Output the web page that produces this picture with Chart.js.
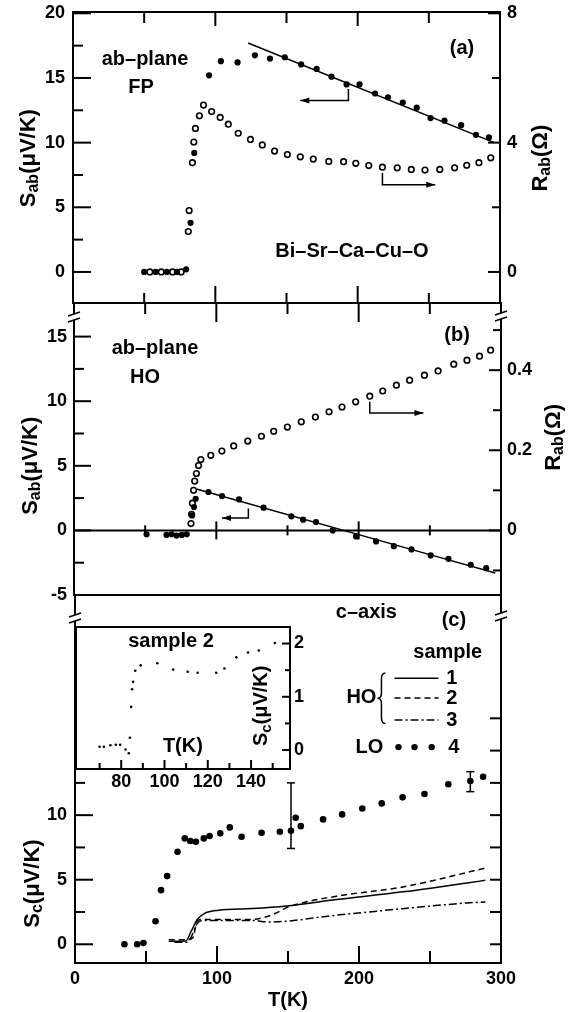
<!DOCTYPE html>
<html>
<head>
<meta charset="utf-8">
<script src="https://cdn.jsdelivr.net/npm/chart.js@4.4.0/dist/chart.umd.min.js"></script>
<style>
    body { margin: 0; background: #fff; }
    #fig { position: relative; width: 576px; height: 1012px; overflow: hidden; background: #fff; }
    #fig canvas { position: absolute; }
</style>
</head>
<body>
<div id="fig">
    <canvas id="panelA" width="576" height="331" style="left:0;top:-8px"></canvas>
    <canvas id="panelB" width="576" height="332" style="left:0;top:283px"></canvas>
    <canvas id="panelC" width="576" height="437" style="left:0;top:575px"></canvas>
    <canvas id="inset" width="268" height="188" style="left:56px;top:607px"></canvas>
</div>
<script>
// (a) ab-plane, FP: thermopower (filled) and resistance (open)
var tA_S = [50, 58, 66, 73, 79.5, 82.6, 85.2, 95.6, 103.9, 115.6, 127.8, 138.4, 148.8, 160.3, 171.2, 181.6, 192.2, 201.3, 212.2, 221.3, 231.7, 241.5, 251.2, 261.0, 272.7, 283.1, 292.2];
var sA = [0, 0, 0, 0, 0.2, 3.8, 9.2, 15.2, 16.3, 16.2, 16.75, 16.5, 16.6, 16.05, 15.7, 15.1, 14.5, 14.5, 13.8, 13.5, 13.1, 12.7, 11.9, 11.7, 11.35, 10.6, 10.4];
var tA_R = [54, 62, 70, 76, 81.0, 81.6, 83.9, 84.9, 86.0, 88.8, 91.7, 97.4, 103.4, 109.1, 116.1, 124.7, 133.0, 141.6, 150.6, 159.7, 168.8, 179.7, 190.1, 198.7, 207.8, 217.4, 227.8, 237.7, 247.3, 257.7, 268.1, 276.6, 285.2, 293.5];
var rA = [0, 0, 0, 0, 1.25, 1.9, 3.38, 4.02, 4.44, 4.83, 5.16, 4.96, 4.78, 4.57, 4.29, 4.10, 3.93, 3.74, 3.63, 3.56, 3.49, 3.42, 3.41, 3.36, 3.29, 3.24, 3.22, 3.17, 3.15, 3.17, 3.22, 3.30, 3.38, 3.53];
var fitA_T = [123, 296];
var fitA_S = [17.7, 10.0];

// (b) ab-plane, HO
var tB_S = [51, 65, 68.6, 72, 75.7, 79.2, 83, 84.3, 85.5, 94.4, 104, 116, 133.2, 152.7, 161, 170, 181.8, 198.2, 212.2, 224.7, 237.1, 250.6, 263.1, 278.7, 289.6];
var sB = [-0.3, -0.35, -0.3, -0.4, -0.35, -0.3, 1.16, 1.81, 2.45, 2.97, 2.66, 2.4, 1.76, 1.09, 0.83, 0.65, 0.0, -0.47, -0.85, -1.22, -1.47, -1.94, -2.2, -2.66, -2.92];
var tB_R = [82.2, 82.6, 83.2, 84, 84.8, 86, 87.5, 89.1, 96.1, 103.9, 112.2, 122.1, 131.7, 140.3, 149.9, 159.7, 169.6, 179.2, 188.3, 197.9, 207.8, 216.9, 226.5, 235.8, 246.2, 255.8, 266.8, 276.1, 284.9, 292.7];
var rB = [0.017, 0.04, 0.068, 0.10, 0.123, 0.142, 0.162, 0.177, 0.1875, 0.198, 0.211, 0.223, 0.235, 0.2475, 0.258, 0.271, 0.283, 0.296, 0.308, 0.321, 0.335, 0.348, 0.3625, 0.375, 0.3875, 0.398, 0.415, 0.425, 0.435, 0.45];
var fitB_T = [86, 296];
var fitB_S = [3.2, -3.3];

// (c) c-axis: HO samples 1-3 (lines), LO sample 4 (dots)
var tC1 = [66, 78, 82, 86, 91, 101, 125, 149, 184, 231, 276, 289];
var sC1 = [0.23, 0.25, 1.05, 1.9, 2.38, 2.64, 2.77, 2.97, 3.46, 4.06, 4.75, 4.95];
var tC2 = [66, 79, 83, 86, 89, 124, 132, 141, 149, 184, 231, 289];
var sC2 = [0.36, 0.36, 0.5, 1.8, 1.91, 1.91, 2.05, 2.38, 2.84, 3.72, 4.44, 5.9];
var tC3 = [70, 79, 82, 86, 90, 124, 137, 184, 231, 276, 289];
var sC3 = [0.15, 0.15, 0.6, 1.6, 1.85, 1.85, 1.73, 2.25, 2.76, 3.2, 3.28];
var tC4 = [34.8, 43.8, 48.2, 56.7, 60.6, 64.9, 72.2, 77.3, 81.2, 85.1, 90.7, 94.8, 102.3, 109.0, 117.3, 131.4, 144.3, 152.1, 155.4, 159.0, 174.7, 188.1, 202.3, 216.0, 230.7, 246.1, 262.9, 278.4, 287.4];
var sC4 = [0, 0, 0.1, 1.78, 4.19, 5.28, 7.16, 8.2, 8.0, 7.94, 8.2, 8.38, 8.59, 9.05, 8.33, 8.64, 8.71, 8.79, 9.8, 9.15, 9.67, 10.06, 10.52, 10.91, 11.38, 11.64, 12.39, 12.65, 12.98];
var errT = [152.1, 278.4];
var errLo = [7.42, 11.82];
var errHi = [12.5, 13.37];

// inset: sample 2
var tIn = [70, 72, 75, 77.5, 79.5, 82, 83.5, 84, 84.6, 85, 85.5, 86.5, 89, 96.7, 104, 110.7, 115.3, 123.9, 127.7, 133.2, 138.6, 143.6, 151];
var sIn = [0.06, 0.06, 0.09, 0.1, 0.1, 0.01, -0.06, 0.23, 0.81, 1.14, 1.28, 1.49, 1.59, 1.63, 1.51, 1.47, 1.45, 1.45, 1.53, 1.74, 1.83, 1.87, 2.01];

// ticks and labels
var ticksT = [50, 100, 150, 200, 250];
var ticksC_T = [0, 50, 100, 150, 200, 250, 300];
var labelsC_T = [0, 100, 200, 300];
var ticksA_S = [0, 2.5, 5, 7.5, 10, 12.5, 15, 17.5, 20];
var labelsA_S = [0, 5, 10, 15, 20];
var ticksA_R = [0, 2, 4, 6, 8];
var labelsA_R = [0, 4, 8];
var ticksB_S = [-5, -2.5, 0, 2.5, 5, 7.5, 10, 12.5, 15];
var labelsB_S = [-5, 0, 5, 10, 15];
var ticksB_R = [-0.1, 0, 0.1, 0.2, 0.3, 0.4, 0.5];
var labelsB_R = [0, 0.2, 0.4];
var ticksC_S = [0, 2.5, 5, 7.5, 10, 12.5, 15, 17.5];
var labelsC_S = [0, 5, 10];
var ticksIn_T = [70, 80, 90, 100, 110, 120, 130, 140, 150];
var labelsIn_T = [80, 100, 120, 140];
var ticksIn_S = [0, 0.5, 1, 1.5, 2];
var labelsIn_S = [0, 1, 2];

var FONT = "'Liberation Sans', Arial, sans-serif";
Chart.defaults.font.family = FONT;
Chart.defaults.font.weight = 'bold';
Chart.defaults.color = '#000';
Chart.defaults.animation = false;

function pts(xs, ys) {
    return xs.map(function (x, i) { return { x: x, y: ys[i] }; });
}
function filled(xs, ys, yId, r) {
    return { data: pts(xs, ys), yAxisID: yId, showLine: false, pointRadius: r,
        pointBackgroundColor: '#000', pointBorderColor: '#000', pointBorderWidth: 0 };
}
function hollow(xs, ys, yId) {
    return { data: pts(xs, ys), yAxisID: yId, showLine: false, pointRadius: 2.8,
        pointBackgroundColor: '#fff', pointBorderColor: '#000', pointBorderWidth: 1.6 };
}
function curve(xs, ys, yId, dash) {
    return { data: pts(xs, ys), yAxisID: yId, showLine: true, pointRadius: 0,
        borderColor: '#000', borderWidth: 1.5, borderDash: dash || [],
        cubicInterpolationMode: 'monotone' };
}

function axis(pos, min, max, values, labels, size, pad) {
    var horiz = pos === 'bottom';
    return {
        type: 'linear', position: pos, min: min, max: max,
        grid: { display: false, drawTicks: false }, border: { display: false },
        ticks: {
            autoSkip: false, maxRotation: 0, minRotation: 0, padding: pad,
            font: { size: 18, weight: 'bold' },
            callback: function (v) { return labels.indexOf(v) >= 0 ? String(v) : ''; }
        },
        afterBuildTicks: function (s) { s.ticks = values.map(function (v) { return { value: v }; }); },
        afterFit: function (s) { if (horiz) { s.height = size; } else { s.width = size; } }
    };
}

// drawing helpers
function line(ctx, x1, y1, x2, y2) {
    ctx.beginPath(); ctx.moveTo(x1, y1); ctx.lineTo(x2, y2); ctx.stroke();
}
function frame(chart) {
    var a = chart.chartArea, ctx = chart.ctx;
    ctx.save(); ctx.strokeStyle = '#000'; ctx.lineWidth = 2;
    ctx.strokeRect(a.left, a.top, a.right - a.left, a.bottom - a.top);
    ctx.restore();
}
// dir: 1 down, -1 up, 0 both sides
function xTicks(chart, values, y, len, dir) {
    var ctx = chart.ctx, sx = chart.scales.x;
    ctx.save(); ctx.lineWidth = 2; ctx.strokeStyle = '#000';
    values.forEach(function (v) {
        var px = sx.getPixelForValue(v), L = len(v);
        line(ctx, px, dir === 1 ? y : y - L, px, dir === -1 ? y : y + L);
    });
    ctx.restore();
}
// dir: 1 right, -1 left
function yTicks(chart, id, values, x, len, dir) {
    var ctx = chart.ctx, sy = chart.scales[id];
    ctx.save(); ctx.lineWidth = 2; ctx.strokeStyle = '#000';
    values.forEach(function (v) {
        var py = sy.getPixelForValue(v);
        line(ctx, x, py, x + dir * len(v), py);
    });
    ctx.restore();
}
function arrow(chart, id, path) {
    var ctx = chart.ctx, sx = chart.scales.x, sy = chart.scales[id];
    var p = path.map(function (q) { return [sx.getPixelForValue(q[0]), sy.getPixelForValue(q[1])]; });
    ctx.save(); ctx.lineWidth = 1.5; ctx.strokeStyle = '#000'; ctx.fillStyle = '#000';
    ctx.beginPath(); ctx.moveTo(p[0][0], p[0][1]);
    for (var i = 1; i < p.length; i++) ctx.lineTo(p[i][0], p[i][1]);
    ctx.stroke();
    var a = p[p.length - 2], b = p[p.length - 1];
    var ang = Math.atan2(b[1] - a[1], b[0] - a[0]), c = Math.cos(ang), s = Math.sin(ang);
    ctx.beginPath(); ctx.moveTo(b[0], b[1]);
    ctx.lineTo(b[0] - 9 * c + 3 * s, b[1] - 9 * s - 3 * c);
    ctx.lineTo(b[0] - 9 * c - 3 * s, b[1] - 9 * s + 3 * c);
    ctx.closePath(); ctx.fill();
    ctx.restore();
}
function text(chart, id, t, v, str, size) {
    var ctx = chart.ctx;
    ctx.save(); ctx.font = 'bold ' + size + 'px ' + FONT; ctx.fillStyle = '#000';
    ctx.textAlign = 'center'; ctx.textBaseline = 'middle';
    ctx.fillText(str, chart.scales.x.getPixelForValue(t), chart.scales[id].getPixelForValue(v));
    ctx.restore();
}
// text with a subscript, centred on (x, y), optionally rotated
function rich(ctx, parts, x, y, rot) {
    var total = 0;
    ctx.save(); ctx.translate(x, y); if (rot) ctx.rotate(rot);
    parts.forEach(function (p) {
        ctx.font = 'bold ' + p.size + 'px ' + FONT; p.w = ctx.measureText(p.t).width; total += p.w;
    });
    var cx = -total / 2;
    ctx.fillStyle = '#000'; ctx.textAlign = 'left'; ctx.textBaseline = 'middle';
    parts.forEach(function (p) {
        ctx.font = 'bold ' + p.size + 'px ' + FONT; ctx.fillText(p.t, cx, p.dy || 0); cx += p.w;
    });
    ctx.restore();
}
function sTitle(sub, big, small) {
    return [{ t: 'S', size: big }, { t: sub, size: small, dy: 5 }, { t: '(μV/K)', size: big }];
}
function rTitle() {
    return [{ t: 'R', size: 22 }, { t: 'ab', size: 16, dy: 5 }, { t: '(Ω)', size: 22 }];
}
function breakMark(ctx, x, y) {
    ctx.save();
    ctx.fillStyle = '#fff';
    ctx.beginPath(); ctx.moveTo(x - 6, y - 1); ctx.lineTo(x + 6, y - 5); ctx.lineTo(x + 6, y + 1); ctx.lineTo(x - 6, y + 5);
    ctx.closePath(); ctx.fill();
    ctx.strokeStyle = '#000'; ctx.lineWidth = 1.5;
    line(ctx, x - 6, y - 1, x + 6, y - 5);
    line(ctx, x - 6, y + 5, x + 6, y + 1);
    ctx.restore();
}

function drawA(chart) {
    var a = chart.chartArea, ctx = chart.ctx;
    frame(chart);
    yTicks(chart, 'yL', ticksA_S, a.left, function (v) { return v % 5 === 0 ? 18 : 10; }, 1);
    yTicks(chart, 'yR', ticksA_R, a.right, function (v) { return v % 4 === 0 ? 12 : 8; }, -1);
    xTicks(chart, ticksT, a.top, function (v) { return v % 100 === 0 ? 14 : 11; }, 1);
    xTicks(chart, ticksT, a.bottom, function (v) { return v % 100 === 0 ? 17 : 10; }, -1);
    arrow(chart, 'yL', [[193.5, 14.15], [193.5, 13.25], [159.7, 13.25]]);
    arrow(chart, 'yR', [[217.4, 3.06], [217.4, 2.7], [254.5, 2.7]]);
    text(chart, 'yL', 50.6, 16.4, 'ab–plane', 20);
    text(chart, 'yL', 47.8, 14.3, 'FP', 20);
    text(chart, 'yL', 273.3, 17.3, '(a)', 20);
    text(chart, 'yL', 196, 1.55, 'Bi–Sr–Ca–Cu–O', 20);
    var yc = chart.scales.yL.getPixelForValue(8.8);
    rich(ctx, sTitle('ab', 22, 16), a.left - 44, yc, -Math.PI / 2);
    rich(ctx, rTitle(), a.right + 41, yc, -Math.PI / 2);
}

function drawB(chart) {
    var a = chart.chartArea, ctx = chart.ctx, sy = chart.scales.yL;
    frame(chart);
    yTicks(chart, 'yL', ticksB_S, a.left, function (v) { return v % 5 === 0 ? 17 : 10; }, 1);
    yTicks(chart, 'yR', ticksB_R, a.right, function (v) { return labelsB_R.indexOf(v) >= 0 ? 12 : 8; }, -1);
    xTicks(chart, ticksT, a.top, function (v) { return v % 100 === 0 ? 19 : 11; }, 1);
    // zero line with ticks across it
    var y0 = sy.getPixelForValue(0);
    ctx.save(); ctx.lineWidth = 2; ctx.strokeStyle = '#000'; line(ctx, a.left, y0, a.right, y0); ctx.restore();
    xTicks(chart, ticksT, y0, function (v) { return v % 100 === 0 ? 9 : 5; }, 0);
    breakMark(ctx, a.left, a.top + 14);
    breakMark(ctx, a.right, a.top + 13);
    arrow(chart, 'yL', [[122.5, 1.7], [122.5, 0.95], [104, 0.95]]);
    arrow(chart, 'yR', [[207.8, 0.321], [207.8, 0.293], [245.5, 0.293]]);
    text(chart, 'yL', 56.9, 14.1, 'ab–plane', 20);
    text(chart, 'yL', 49.9, 11.8, 'HO', 20);
    text(chart, 'yL', 269.1, 15.1, '(b)', 20);
    rich(ctx, sTitle('ab', 22, 16), a.left - 43, sy.getPixelForValue(5.0), -Math.PI / 2);
    rich(ctx, rTitle(), a.right + 53, sy.getPixelForValue(7.2), -Math.PI / 2);
}

function drawC(chart) {
    var a = chart.chartArea, ctx = chart.ctx, sx = chart.scales.x, sy = chart.scales.y;
    frame(chart);
    yTicks(chart, 'y', ticksC_S, a.left, function (v) { return v % 5 === 0 ? 18 : 10; }, 1);
    yTicks(chart, 'y', ticksC_S, a.right, function () { return 11; }, -1);
    xTicks(chart, ticksT, a.bottom, function (v) { return v % 100 === 0 ? 17 : 12; }, -1);
    breakMark(ctx, a.left, a.top + 23);
    breakMark(ctx, a.right, a.top + 21);
    // error bars on sample 4
    ctx.save(); ctx.lineWidth = 1.5; ctx.strokeStyle = '#000';
    errT.forEach(function (t, i) {
        var x = sx.getPixelForValue(t), y1 = sy.getPixelForValue(errLo[i]), y2 = sy.getPixelForValue(errHi[i]);
        line(ctx, x, y1, x, y2); line(ctx, x - 4, y1, x + 4, y1); line(ctx, x - 4, y2, x + 4, y2);
    });
    ctx.restore();
    text(chart, 'y', 205.2, 25.7, 'c–axis', 20);
    text(chart, 'y', 266.8, 25.1, '(c)', 20);
    // legend
    text(chart, 'y', 262.5, 22.6, 'sample', 20);
    text(chart, 'y', 201.7, 19.1, 'HO', 20);
    var bx = sx.getPixelForValue(215.8), by1 = sy.getPixelForValue(21.0), by2 = sy.getPixelForValue(17.1), bm = (by1 + by2) / 2;
    ctx.save(); ctx.lineWidth = 1.5; ctx.strokeStyle = '#000';
    ctx.beginPath();
    ctx.moveTo(bx + 4, by1); ctx.quadraticCurveTo(bx, by1, bx, by1 + 6); ctx.lineTo(bx, bm - 5);
    ctx.quadraticCurveTo(bx, bm, bx - 4, bm); ctx.quadraticCurveTo(bx, bm, bx, bm + 5);
    ctx.lineTo(bx, by2 - 6); ctx.quadraticCurveTo(bx, by2, bx + 4, by2);
    ctx.stroke();
    var lx1 = sx.getPixelForValue(225), lx2 = sx.getPixelForValue(256);
    [[20.6, []], [19.07, [6, 4]], [17.36, [8, 3, 2, 3]]].forEach(function (row) {
        var y = sy.getPixelForValue(row[0]);
        ctx.setLineDash(row[1]); line(ctx, lx1, y, lx2, y);
    });
    ctx.setLineDash([]);
    ctx.fillStyle = '#000';
    [227.8, 239.1, 251.2].forEach(function (t) {
        ctx.beginPath(); ctx.arc(sx.getPixelForValue(t), sy.getPixelForValue(15.27), 3.2, 0, Math.PI * 2); ctx.fill();
    });
    ctx.restore();
    text(chart, 'y', 265.3, 20.6, '1', 20);
    text(chart, 'y', 265.3, 19.07, '2', 20);
    text(chart, 'y', 265.3, 17.36, '3', 20);
    text(chart, 'y', 207.3, 15.27, 'LO', 20);
    text(chart, 'y', 266.8, 15.27, '4', 20);
    rich(ctx, sTitle('c', 22, 16), a.left - 42, sy.getPixelForValue(4.7), -Math.PI / 2);
}

function drawInset(chart) {
    var a = chart.chartArea, ctx = chart.ctx;
    frame(chart);
    xTicks(chart, ticksIn_T, a.bottom, function (v) { return v % 20 === 0 ? 9 : 6; }, -1);
    yTicks(chart, 'y', ticksIn_S, a.right, function (v) { return v % 1 === 0 ? 8 : 5; }, -1);
    text(chart, 'y', 103, 2.03, 'sample 2', 20);
    text(chart, 'y', 108.5, 0.06, 'T(K)', 20);
    rich(ctx, sTitle('c', 20, 15), chart.scales.x.getPixelForValue(145), chart.scales.y.getPixelForValue(0.83), -Math.PI / 2);
}

var base = {
    responsive: false,
    events: [],
    plugins: { legend: { display: false }, tooltip: { enabled: false } }
};
function opts(padding, scales) {
    return Object.assign({}, base, { layout: { padding: padding }, scales: scales });
}

// panel (a)
new Chart(document.getElementById('panelA'), {
    type: 'scatter',
    data: { datasets: [
        filled(tA_S, sA, 'yL', 3.1),
        hollow(tA_R, rA, 'yR'),
        curve(fitA_T, fitA_S, 'yL')
    ] },
    options: opts({ top: 20, bottom: 20, left: 0, right: 0 }, {
        x: { type: 'linear', min: 0, max: 300, display: false },
        yL: axis('left', -2.4, 20.1, ticksA_S, labelsA_S, 73, 8),
        yR: axis('right', -0.96, 8.04, ticksA_R, labelsA_R, 76, 7)
    }),
    plugins: [{ id: 'decorA', afterDraw: drawA }]
});

// panel (b)
new Chart(document.getElementById('panelB'), {
    type: 'scatter',
    data: { datasets: [
        filled(tB_S, sB, 'yL', 3.1),
        hollow(tB_R, rB, 'yR'),
        curve(fitB_T, fitB_S, 'yL')
    ] },
    options: opts({ top: 20, bottom: 20, left: 0, right: 0 }, {
        x: { type: 'linear', min: 0, max: 300, display: false },
        yL: axis('left', -5, 17.6, ticksB_S, labelsB_S, 74, 7),
        yR: axis('right', -0.1613, 0.5677, ticksB_R, labelsB_R, 75, 6)
    }),
    plugins: [{ id: 'decorB', afterDraw: drawB }]
});

// panel (c)
var xC = axis('bottom', 0, 300, ticksC_T, labelsC_T, 49, 5);
xC.title = { display: true, text: 'T(K)', font: { size: 20, weight: 'bold' }, padding: { top: 0, bottom: 0 } };
new Chart(document.getElementById('panelC'), {
    type: 'scatter',
    data: { datasets: [
        filled(tC4, sC4, 'y', 3.3),
        curve(tC1, sC1, 'y'),
        curve(tC2, sC2, 'y', [6, 4]),
        curve(tC3, sC3, 'y', [8, 3, 2, 3])
    ] },
    options: opts({ top: 20, bottom: 0, left: 0, right: 75 }, {
        x: xC,
        y: axis('left', -1.45, 27.05, ticksC_S, labelsC_S, 75, 8)
    }),
    plugins: [{ id: 'decorC', afterDraw: drawC }]
});

// inset of (c)
new Chart(document.getElementById('inset'), {
    type: 'scatter',
    data: { datasets: [filled(tIn, sIn, 'y', 1.3)] },
    options: opts({ top: 20, bottom: 0, left: 20, right: 0 }, {
        x: axis('bottom', 59.1, 158, ticksIn_T, labelsIn_T, 26, 2),
        y: axis('right', -0.356, 2.31, ticksIn_S, labelsIn_S, 34, 4)
    }),
    plugins: [{
        id: 'decorInset',
        beforeDraw: function (chart) {
            var a = chart.chartArea;
            chart.ctx.save(); chart.ctx.fillStyle = '#fff';
            chart.ctx.fillRect(a.left, a.top, a.right - a.left, a.bottom - a.top);
            chart.ctx.restore();
        },
        afterDraw: drawInset
    }]
});
</script>
</body>
</html>
